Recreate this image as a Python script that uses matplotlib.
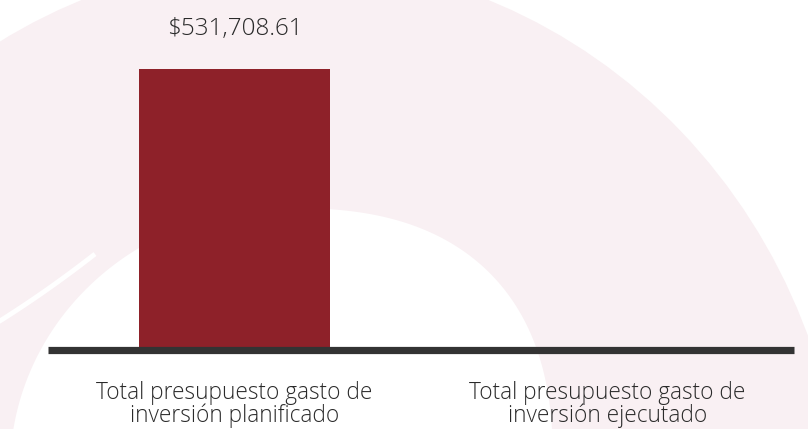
import matplotlib.pyplot as plt
import numpy as np
from matplotlib.patches import Ellipse, Polygon

categorias = ["Total presupuesto gasto de\ninversión planificado",
              "Total presupuesto gasto de\ninversión ejecutado"]
valores = [531708.61, 0]
etiquetas = ["$531,708.61", ""]

W, H = 808, 429
fig = plt.figure(figsize=(W / 100, H / 100), dpi=100)
fig.patch.set_facecolor("white")

# decorative background (pixel coordinates, y down)
bg = fig.add_axes([0, 0, 1, 1], zorder=0)
bg.set_xlim(0, W)
bg.set_ylim(H, 0)
bg.axis("off")
pink = "#f9f0f3"
bg.add_patch(Ellipse((285, 545), 2 * 560, 2 * 585, color=pink, lw=0))
# inner white arc: left half plain ellipse, right half a bit fuller
t = np.linspace(-np.pi / 2, np.pi / 2, 200)
rx = 285 + 268 * np.abs(np.cos(t)) ** 0.8
ry = 470 + 262 * np.sign(np.sin(t)) * np.abs(np.sin(t)) ** 0.8
t2 = np.linspace(np.pi / 2, 3 * np.pi / 2, 200)
lx = 285 + 275 * np.cos(t2)
ly = 470 + 262 * np.sin(t2)
pts = np.column_stack([np.r_[rx, lx], np.r_[ry, ly]])
bg.add_patch(Polygon(pts, closed=True, color="white", lw=0))
s = np.linspace(0, 1, 30)
bg.plot(95 - 100 * s, 254 + 70 * s + 8 * s * (1 - s), color="white", lw=3.5,
        solid_capstyle="butt")

# chart
ax = fig.add_axes([48 / W, (H - 349.5) / H, (794 - 48) / W, 349.5 / H], zorder=1)
ax.patch.set_alpha(0)
x = np.arange(len(categorias))
bars = ax.bar(x, valores, width=0.51, color="#8e2129", zorder=2)
ax.set_xlim(-0.5, 1.5)
ax.set_ylim(0, 531708.61 * 349.5 / 280.5)
for b, lab in zip(bars, etiquetas):
    ax.annotate(lab, (b.get_x() + b.get_width() / 2, b.get_height()),
                xytext=(0, 24.5), textcoords="offset points", ha="center",
                va="baseline", fontsize=17.5, color="#2a2a2a",
                family="Open Sans", fontweight="light")

for sp in ["top", "right", "left"]:
    ax.spines[sp].set_visible(False)
ax.spines["bottom"].set_color("#333333")
ax.spines["bottom"].set_linewidth(5.2)
ax.spines["bottom"].set_capstyle("butt")
ax.set_yticks([])
ax.set_xticks(x)
ax.set_xticklabels(categorias, fontsize=16.3, color="#2a2a2a",
                   family="Open Sans", fontweight="light", linespacing=0.92)
ax.tick_params(axis="x", length=0, pad=23)

fig.savefig("out.png", dpi=100)
